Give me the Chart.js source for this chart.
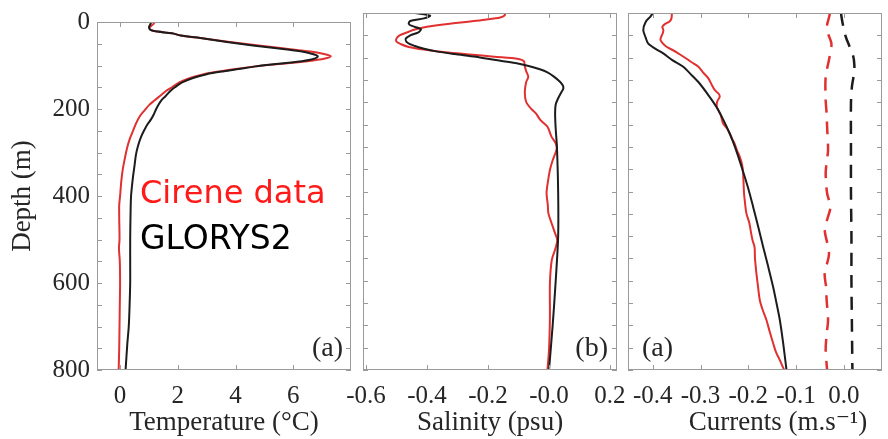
<!DOCTYPE html>
<html><head><meta charset="utf-8">
<script src="https://cdn.jsdelivr.net/npm/chart.js@4/dist/chart.umd.min.js"></script>
<style>
html,body{margin:0;padding:0;background:#fff;}
#wrap{position:relative;width:888px;height:439px;overflow:hidden;background:#fff;}
#wrap canvas{position:absolute;left:0;top:0;}
</style>
</head><body>
<div id="wrap">
<canvas id="c1" width="888" height="439"></canvas>
<canvas id="c2" width="888" height="439"></canvas>
<canvas id="c3" width="888" height="439"></canvas>
</div>
<script>
// ---------------- data ----------------
const depthTicks = [0,50,100,150,200,250,300,350,400,450,500,550,600,650,700,750,800];
const tempTicks = [0,2,4,6];
const salTicks = [-0.6,-0.4,-0.2,0,0.2];
const curTicks = [-0.4,-0.3,-0.2,-0.1,0];

// Temperature (°C)
const tempGlorysDepth = [0,5,12,18,22,26,31,38,46,54,61,68,74,79,85,90,96,102,108,113,120,128,139,150,158,170,180,190,200,212,225,235,247,265,285,305,330,360,400,450,500,550,600,650,700,740,800];
const tempGlorys      = [1.08,1.05,1.0,1.05,1.3,1.8,2.1,2.9,3.7,4.6,5.5,6.3,6.7,6.85,6.7,6.3,5.5,4.7,4.1,3.6,3.0,2.55,2.15,1.9,1.75,1.58,1.43,1.33,1.25,1.17,1.06,0.95,0.85,0.72,0.62,0.55,0.5,0.44,0.38,0.36,0.35,0.35,0.35,0.33,0.3,0.25,0.19];
const tempCireneDepth = [0,5,12,18,22,26,31,38,46,54,61,68,74,79,84,90,96,102,108,113,120,128,139,150,158,170,180,190,203,215,232,250,270,290,315,340,367,400,420,450,500,520,550,600,650,700,750,800];
const tempCirene      = [1.2,1.15,1.03,1.05,1.3,1.8,2.1,2.9,3.8,4.8,5.7,6.6,7.1,7.3,7.1,6.5,5.6,4.7,4.0,3.5,2.9,2.45,2.05,1.8,1.6,1.38,1.2,1.02,0.85,0.7,0.56,0.45,0.33,0.24,0.16,0.09,0.04,0.0,-0.03,-0.03,-0.02,-0.04,-0.01,0.0,-0.01,-0.02,-0.03,-0.05];

// Salinity (psu)
const salGlorysDepth = [0,6,12,18,24,29,36,44,50,58,66,74,80,86,92,98,105,112,118,126,133,142,154,162,169,178,191,205,225,260,300,400,500,600,700,800];
const salGlorys      = [-0.44,-0.39,-0.41,-0.455,-0.46,-0.45,-0.42,-0.43,-0.455,-0.47,-0.465,-0.44,-0.41,-0.37,-0.31,-0.24,-0.18,-0.11,-0.07,-0.03,-0.005,0.015,0.036,0.045,0.047,0.04,0.03,0.022,0.02,0.022,0.026,0.03,0.03,0.022,0.012,0.0];
const salCireneDepth = [0,5,10,15,19,25,31,37,42,50,57,64,70,76,82,88,93,98,103,108,117,130,143,155,173,190,202,215,225,240,255,277,292,305,330,352,380,404,430,449,470,494,509,530,554,606,681,755,800];
const salCirene      = [-0.145,-0.145,-0.16,-0.21,-0.26,-0.34,-0.40,-0.44,-0.46,-0.49,-0.5,-0.5,-0.485,-0.46,-0.41,-0.34,-0.26,-0.18,-0.1,-0.082,-0.08,-0.075,-0.068,-0.075,-0.079,-0.078,-0.073,-0.058,-0.043,-0.028,-0.005,0.008,0.022,0.025,0.012,0.003,-0.004,-0.008,-0.004,-0.002,0.008,0.02,0.027,0.02,0.009,0.003,0.003,0.0,-0.005];

// Currents (m/s)
const curGlorysDepth = [0,8,20,38,55,68,80,90,105,120,140,158,185,210,240,270,300,345,390,434,480,524,570,614,650,688,740,800];
const curGlorys      = [-0.40,-0.405,-0.415,-0.42,-0.415,-0.41,-0.395,-0.379,-0.36,-0.337,-0.318,-0.302,-0.283,-0.267,-0.252,-0.239,-0.228,-0.214,-0.201,-0.19,-0.179,-0.169,-0.158,-0.148,-0.141,-0.134,-0.127,-0.12];
const curCireneDepth = [0,12,19,25,31,38,45,52,60,67,75,88,102,111,120,133,146,160,173,181,188,198,210,228,247,260,270,282,292,307,322,340,359,380,404,425,449,470,494,510,524,550,584,610,643,665,688,715,740,760,778,800];
const curCirene      = [-0.36,-0.361,-0.365,-0.375,-0.38,-0.378,-0.379,-0.382,-0.384,-0.38,-0.372,-0.35,-0.33,-0.318,-0.305,-0.295,-0.284,-0.277,-0.27,-0.262,-0.26,-0.265,-0.266,-0.258,-0.253,-0.244,-0.239,-0.234,-0.229,-0.224,-0.218,-0.213,-0.211,-0.21,-0.209,-0.207,-0.204,-0.198,-0.194,-0.191,-0.187,-0.186,-0.183,-0.18,-0.176,-0.17,-0.162,-0.155,-0.148,-0.142,-0.134,-0.125];
const curGlorysDashDepth = [0,20,53,75,98,115,128,145,165,202,300,400,500,600,700,800];
const curGlorysDash      = [-0.006,-0.003,0.004,0.012,0.02,0.022,0.022,0.02,0.017,0.015,0.015,0.015,0.016,0.016,0.017,0.018];
const curCireneDashDepth = [0,10,27,46,68,88,105,143,195,225,255,307,335,360,404,434,460,486,539,584,615,643,688,720,755,800];
const curCireneDash      = [-0.029,-0.031,-0.035,-0.033,-0.026,-0.028,-0.031,-0.038,-0.038,-0.036,-0.035,-0.033,-0.036,-0.038,-0.035,-0.028,-0.034,-0.04,-0.031,-0.04,-0.037,-0.036,-0.033,-0.036,-0.038,-0.035];

// ---------------- helpers ----------------
const SERIF = "'Liberation Serif','DejaVu Serif',serif";
const RED = '#e0302f', BLACK = '#1c1c1c', FRAME = '#9a9a9a', TXT = '#262626';
const pts = (d, v) => d.map((dd, i) => ({x: v[i], y: dd}));

function frameTicks(xTicks) {
  return {
    id: 'frameTicks',
    afterDatasetsDraw(chart) {
      const {ctx, chartArea: a, scales} = chart;
      const L = 5;
      ctx.save();
      ctx.strokeStyle = FRAME; ctx.lineWidth = 1;
      ctx.strokeRect(Math.round(a.left) + 0.5, Math.round(a.top) + 0.5, Math.round(a.right - a.left) - 1, Math.round(a.bottom - a.top) - 1);
      ctx.beginPath();
      xTicks.forEach(v => {
        const px = Math.round(scales.x.getPixelForValue(v)) + 0.5;
        ctx.moveTo(px, a.top); ctx.lineTo(px, a.top + L);
        ctx.moveTo(px, a.bottom); ctx.lineTo(px, a.bottom - L);
      });
      depthTicks.forEach(v => {
        const py = Math.round(scales.y.getPixelForValue(v)) + 0.5;
        ctx.moveTo(a.left, py); ctx.lineTo(a.left + L, py);
        ctx.moveTo(a.right, py); ctx.lineTo(a.right - L, py);
      });
      ctx.stroke();
      ctx.restore();
    }
  };
}
function textPlugin(items) {
  return {
    id: 'freeText',
    afterDraw(chart) {
      const ctx = chart.ctx;
      ctx.save();
      items.forEach(t => {
        ctx.font = t.font; ctx.fillStyle = t.color;
        ctx.textAlign = t.align || 'left'; ctx.textBaseline = 'middle';
        ctx.fillText(t.text, t.x, t.y);
      });
      ctx.restore();
    }
  };
}
const tickFont = {family: SERIF, size: 25};
const titleFont = {family: SERIF, size: 27};

function xScale(min, max, ticks, title, fmt) {
  return {
    type: 'linear', min, max,
    afterBuildTicks: s => { s.ticks = ticks.map(v => ({value: v})); },
    afterFit: s => { s.height = 69; },
    grid: {display: false, drawTicks: false},
    border: {display: false},
    ticks: {font: tickFont, color: TXT, padding: 11, maxRotation: 0, autoSkip: false, callback: fmt},
    title: {display: !!title, text: title, font: titleFont, color: TXT, padding: {top: 0, bottom: 0}}
  };
}
function yScale(show) {
  return {
    type: 'linear', reverse: true, min: 0, max: 800, display: show,
    afterBuildTicks: s => { s.ticks = depthTicks.map(v => ({value: v})); },
    afterFit: s => { if (show) s.width = 97; },
    grid: {display: false, drawTicks: false},
    border: {display: false},
    ticks: {font: tickFont, color: TXT, padding: 7, autoSkip: false, callback: v => (v % 200 === 0 ? String(v) : '')},
    title: {display: show, text: 'Depth (m)', font: titleFont, color: TXT, padding: {top: 7, bottom: 0}}
  };
}
function lineDs(label, data, color, dash) {
  return {label, data, borderColor: color, backgroundColor: color, borderWidth: dash ? 2.5 : 2,
    borderDash: dash ? [13, 9] : [], pointRadius: 0, tension: 0.3, fill: false};
}
function baseOpts(pad, xs, showY) {
  return {
    responsive: false, animation: false, devicePixelRatio: 1,
    layout: {padding: pad},
    plugins: {legend: {display: false}, tooltip: {enabled: false}},
    scales: {x: xs, y: yScale(showY)}
  };
}

// ---------------- charts ----------------
new Chart(document.getElementById('c1'), {
  type: 'line',
  data: {datasets: [
    lineDs('GLORYS2', pts(tempGlorysDepth, tempGlorys), BLACK),
    lineDs('Cirene data', pts(tempCireneDepth, tempCirene), RED)
  ]},
  options: baseOpts({left: 0, top: 13, right: 537, bottom: 0},
    xScale(-0.8, 8, tempTicks, 'Temperature (°C)', v => String(v)), true),
  plugins: [frameTicks(tempTicks), textPlugin([
    {text: 'Cirene data', x: 140, y: 195, font: "32px 'DejaVu Sans'", color: '#ff1a1a'},
    {text: 'GLORYS2', x: 140, y: 240, font: "33px 'DejaVu Sans'", color: '#000'},
    {text: '(a)', x: 343, y: 349, font: "28px " + SERIF, color: TXT, align: 'right'}
  ])]
});

new Chart(document.getElementById('c2'), {
  type: 'line',
  data: {datasets: [
    lineDs('GLORYS2', pts(salGlorysDepth, salGlorys), BLACK),
    lineDs('Cirene data', pts(salCireneDepth, salCirene), RED)
  ]},
  options: baseOpts({left: 363, top: 13, right: 271, bottom: 0},
    xScale(-0.61, 0.223, salTicks, 'Salinity (psu)', v => (v === 0 ? '-0.0' : v.toFixed(1))), false),
  plugins: [frameTicks(salTicks), textPlugin([
    {text: '(b)', x: 608, y: 349, font: "28px " + SERIF, color: TXT, align: 'right'}
  ])]
});

new Chart(document.getElementById('c3'), {
  type: 'line',
  data: {datasets: [
    lineDs('GLORYS2', pts(curGlorysDepth, curGlorys), BLACK),
    lineDs('Cirene data', pts(curCireneDepth, curCirene), RED),
    lineDs('GLORYS2 (dashed)', pts(curGlorysDashDepth, curGlorysDash), BLACK, true),
    lineDs('Cirene data (dashed)', pts(curCireneDashDepth, curCireneDash), RED, true)
  ]},
  options: baseOpts({left: 628, top: 13, right: 6, bottom: 0},
    xScale(-0.452, 0.08, curTicks, '', v => v.toFixed(1)), false),
  plugins: [frameTicks(curTicks), textPlugin([
    {text: '(a)', x: 642, y: 349, font: "28px " + SERIF, color: TXT, align: 'left'},
    {text: 'Currents (m.s⁻¹)', x: 778, y: 423, font: "27px " + SERIF, color: TXT, align: 'center'}
  ])]
});
</script>
</body></html>
